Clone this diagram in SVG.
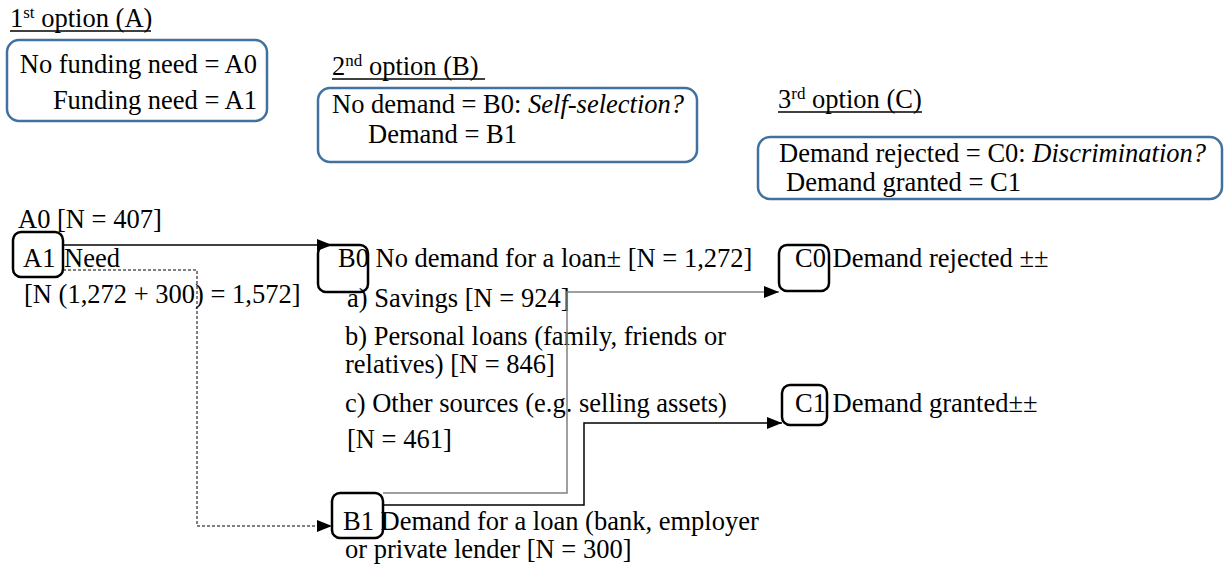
<svg xmlns="http://www.w3.org/2000/svg" width="1224" height="565" viewBox="0 0 1224 565">
<defs>
<style>
text{font-family:"Liberation Serif","Times New Roman",serif;font-size:26.5px;fill:#000}
.sup{font-size:17px}
.it{font-style:italic}
.leg{fill:none;stroke:#41719C;stroke-width:2.5}
.nb{fill:none;stroke:#000;stroke-width:2.5}
.ul{stroke:#000;stroke-width:1.3}
.blk{fill:none;stroke:#000;stroke-width:1.5}
.gry{fill:none;stroke:#808080;stroke-width:1.5}
.dsh{fill:none;stroke:#000;stroke-width:1;stroke-dasharray:3 2}
</style>
<marker id="ah" markerUnits="userSpaceOnUse" markerWidth="15" markerHeight="12" refX="15" refY="6" orient="auto">
<path d="M0,0 L15,6 L0,12 z" fill="#000"/>
</marker>
</defs>
<rect width="1224" height="565" fill="#fff"/>

<g id="legend-A">
<text x="10" y="27">1<tspan class="sup" dy="-9">st</tspan><tspan dy="9"> option (A)</tspan></text>
<line class="ul" x1="10" y1="31" x2="151" y2="31"/>
<rect class="leg" x="7" y="40" width="260" height="81" rx="12"/>
<text x="257" y="73" text-anchor="end">No funding need = A0</text>
<text x="257" y="109" text-anchor="end">Funding need = A1</text>
</g>

<g id="legend-B">
<text x="332" y="75">2<tspan class="sup" dy="-9">nd</tspan><tspan dy="9"> option (B) </tspan></text>
<line class="ul" x1="332" y1="79" x2="485" y2="79"/>
<rect class="leg" x="318" y="88" width="379" height="74" rx="12"/>
<text x="332" y="113">No demand = B0: <tspan class="it">Self-selection?</tspan></text>
<text x="368" y="143">Demand = B1</text>
</g>

<g id="legend-C">
<text x="778" y="108">3<tspan class="sup" dy="-9">rd</tspan><tspan dy="9"> option (C)</tspan></text>
<line class="ul" x1="778" y1="112" x2="922" y2="112"/>
<rect class="leg" x="758" y="137" width="464" height="62" rx="12"/>
<text x="779" y="162">Demand rejected = C0: <tspan class="it">Discrimination?</tspan></text>
<text x="786" y="191">Demand granted = C1</text>
</g>

<g id="node-A0">
<text x="18" y="228">A0 [N = 407]</text>
</g>

<g id="node-A1">
<rect class="nb" x="13" y="232" width="50" height="45" rx="8"/>
<text x="23" y="267">A1</text>
<text x="64" y="267">Need</text>
<text x="24" y="303">[N (1,272 + 300) = 1,572]</text>
</g>

<g id="node-B0">
<rect class="nb" x="318" y="245" width="50" height="47" rx="8"/>
<text x="338" y="267">B0 No demand for a loan± [N = 1,272]</text>
<text x="347" y="307">a) Savings [N = 924]</text>
<text x="345" y="345">b) Personal loans (family, friends or</text>
<text x="345" y="373">relatives) [N = 846]</text>
<text x="345" y="412">c) Other sources (e.g. selling assets)</text>
<text x="347" y="448">[N = 461]</text>
</g>

<g id="node-B1">
<rect class="nb" x="332" y="493" width="51" height="45" rx="8"/>
<text x="343" y="530">B1 Demand for a loan (bank, employer</text>
<text x="345" y="558">or private lender [N = 300]</text>
</g>

<g id="node-C0">
<rect class="nb" x="779" y="245" width="50" height="46" rx="8"/>
<text x="795" y="267">C0 Demand rejected ±±</text>
</g>

<g id="node-C1">
<rect class="nb" x="782" y="385" width="45" height="40" rx="8"/>
<text x="795" y="412">C1 Demand granted±±</text>
</g>

<g id="connectors">
<path class="blk" d="M63,245 H332" marker-end="url(#ah)"/>
<path class="dsh" d="M63,270 H197 V526 H332" marker-end="url(#ah)"/>
<path class="gry" d="M383,493 H567 V292 H779" marker-end="url(#ah)"/>
<path class="blk" d="M383,505 H584 V423 H782" marker-end="url(#ah)"/>
</g>
</svg>
